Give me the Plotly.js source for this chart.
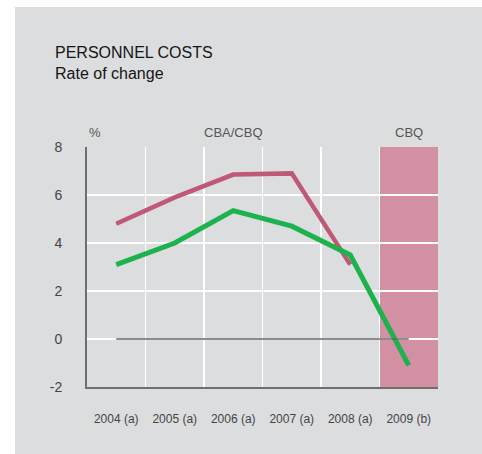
<!DOCTYPE html>
<html>
<head>
<meta charset="utf-8">
<script src="https://cdn.plot.ly/plotly-3.0.1.min.js"></script>
<style>
  html, body { margin: 0; padding: 0; background: #ffffff; width: 482px; height: 454px; overflow: hidden; }
  #chart { position: absolute; left: 15px; top: 7px; width: 467px; height: 447px; }
</style>
</head>
<body>
<div id="chart"></div>
<script>
// ---- data ----
const categories = ['2004 (a)', '2005 (a)', '2006 (a)', '2007 (a)', '2008 (a)', '2009 (b)'];
const cbaValues = [4.8, 5.9, 6.85, 6.9, 3.1];          // mauve line (ends 2008)
const cbqValues = [3.1, 4.0, 5.35, 4.7, 3.5, -1.1];    // green line
const zeroLine = [0, 0, 0, 0, 0, 0];
const yTicks = [-2, 0, 2, 4, 6, 8];
const groupLabels = ['CBA/CBQ', 'CBQ'];
const groupCenters = ['2006 (a)', '2009 (b)'];
const highlightCategory = '2009 (b)';
const chartTitle = 'PERSONNEL COSTS<br>Rate of change';
const unitLabel = '%';

const font = 'Liberation Sans, Arial, Helvetica, sans-serif';
const hiIdx = categories.indexOf(highlightCategory);

const traces = [
  {
    x: categories.slice(0, cbaValues.length), y: cbaValues,
    type: 'scatter', mode: 'lines',
    line: { color: '#c05878', width: 4.5 },
    hoverinfo: 'skip', showlegend: false
  },
  {
    x: categories, y: cbqValues,
    type: 'scatter', mode: 'lines',
    line: { color: '#1cb24e', width: 5 },
    hoverinfo: 'skip', showlegend: false
  },
  {
    x: categories, y: zeroLine,
    type: 'scatter', mode: 'lines',
    line: { color: '#666666', width: 1.5 },
    hoverinfo: 'skip', showlegend: false
  }
];

const layout = {
  width: 467, height: 447,
  paper_bgcolor: '#dcdddf',
  plot_bgcolor: '#dcdddf',
  margin: { l: 72, r: 44, t: 140, b: 67 },
  font: { family: font, color: '#333333' },
  title: {
    text: chartTitle,
    font: { family: font, size: 16, color: '#151515' },
    xref: 'container', x: 40 / 467, xanchor: 'left',
    yref: 'container', y: 1 - 51 / 447, yanchor: 'top',
    pad: { t: 0, b: 0, l: 0, r: 0 }
  },
  xaxis: {
    type: 'category',
    range: [-0.5, categories.length - 0.5],
    tickson: 'boundaries',
    showgrid: true, gridcolor: '#ffffff', gridwidth: 1.5,
    showline: true, linecolor: '#6f6f6f', linewidth: 2,
    ticks: '',
    ticklabelstandoff: 20,
    tickfont: { family: font, size: 12, color: '#444444' },
    fixedrange: true
  },
  yaxis: {
    range: [-2, 8],
    tickvals: yTicks,
    ticktext: yTicks.map(String),
    showgrid: true, gridcolor: '#ffffff', gridwidth: 1.5,
    zeroline: false,
    showline: true, linecolor: '#6f6f6f', linewidth: 2,
    ticks: '',
    ticklabelstandoff: 20,
    tickfont: { family: font, size: 14, color: '#444444' },
    fixedrange: true
  },
  shapes: [
    {
      type: 'rect', layer: 'below',
      xref: 'x', yref: 'paper',
      x0: hiIdx - 0.5, x1: hiIdx + 0.5, y0: 0, y1: 1,
      fillcolor: '#d490a3', line: { width: 0 }
    }
  ],
  annotations: [
    {
      text: unitLabel, xref: 'paper', yref: 'paper', x: 0, y: 1,
      xanchor: 'left', yanchor: 'bottom', yshift: 5, showarrow: false,
      font: { family: font, size: 13, color: '#555555' }
    }
  ].concat(groupLabels.map((t, i) => ({
    text: t, xref: 'x', yref: 'paper', x: groupCenters[i], y: 1,
    xanchor: 'center', yanchor: 'bottom', yshift: 5, showarrow: false,
    font: { family: font, size: 13, color: '#555555' }
  })))
};

Plotly.newPlot('chart', traces, layout, { displayModeBar: false, staticPlot: true });
</script>
</body>
</html>
